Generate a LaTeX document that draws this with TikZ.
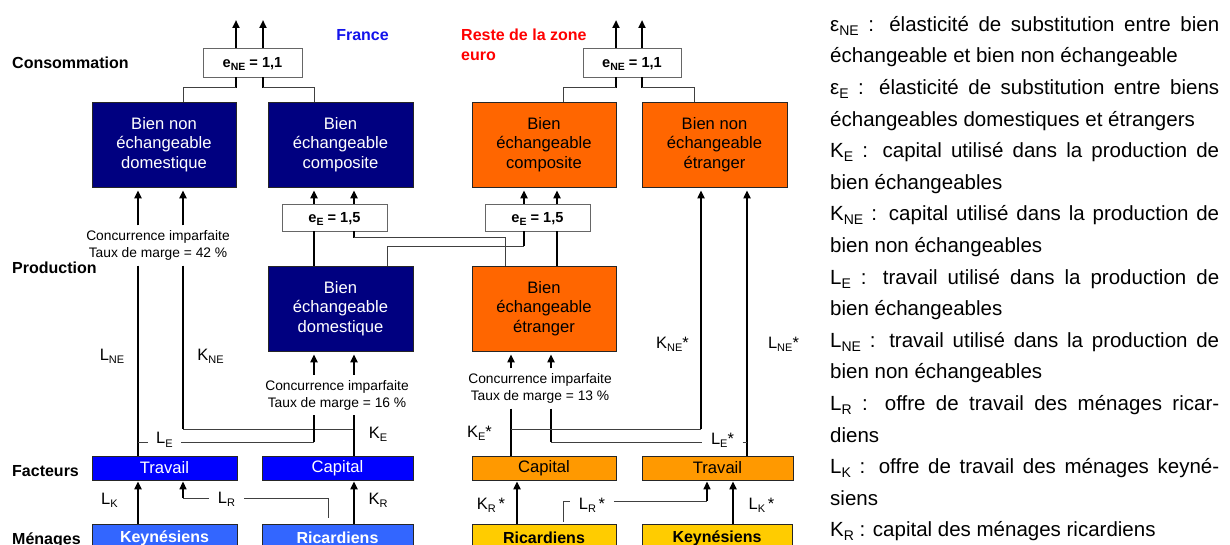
\documentclass[tikz,border=0pt]{standalone}
\usepackage{fontspec}
\setmainfont{Liberation Sans}
\usetikzlibrary{arrows.meta}
\definecolor{navy}{RGB}{0,0,128}
\definecolor{fblue}{RGB}{0,0,255}
\definecolor{lblue}{RGB}{51,102,255}
\definecolor{dorange}{RGB}{255,102,0}
\definecolor{lorange}{RGB}{255,153,0}
\definecolor{myyellow}{RGB}{255,204,0}
\definecolor{francecol}{RGB}{20,20,235}
\definecolor{restecol}{RGB}{255,0,0}
\definecolor{thincol}{RGB}{64,64,64}
\newcommand{\sbs}[1]{\raisebox{-3.5pt}{\fontsize{11}{11}\selectfont #1}}
\newcommand{\lsb}[1]{\raisebox{-4pt}{\fontsize{14}{14}\selectfont #1}}
\newcommand{\esb}[1]{\raisebox{-3pt}{\fontsize{10.5}{10.5}\selectfont #1}}
\begin{document}
\begin{tikzpicture}[x=1pt,y=-1pt,
  box/.style={draw=black!85, line width=0.8pt, inner sep=0pt, align=center, font=\fontsize{16.6}{19.5}\selectfont},
  navybox/.style={box, fill=navy, text=white},
  dorbox/.style={box, fill=dorange, text=black},
  ebox/.style={draw=black!60, line width=0.8pt, fill=white, inner sep=0pt, text height=10pt, text depth=0pt, font=\fontsize{14.6}{14.6}\selectfont\bfseries},
  fbox/.style={box, fill=fblue, text=white, minimum height=24pt},
  obox/.style={box, fill=lorange, text=black, minimum height=24pt},
  kbox/.style={box, fill=lblue, text=white, minimum height=28pt, font=\fontsize{16}{16}\selectfont\bfseries},
  ybox/.style={box, fill=myyellow, text=black, minimum height=28pt, font=\fontsize{16}{16}\selectfont\bfseries},
  heading/.style={anchor=base west, inner sep=0pt, font=\fontsize{16}{16}\selectfont\bfseries},
  cimp/.style={align=center, inner xsep=0pt, inner ysep=5pt, font=\fontsize{13.8}{17}\selectfont},
  lab/.style={anchor=base, inner xsep=8.5pt, inner ysep=0pt, font=\fontsize{16.5}{16.5}\selectfont},
  thk/.style={line width=2pt, black},
  thn/.style={line width=1pt, thincol},
  arr/.style={thk, -{Triangle[width=7pt,length=8pt]}, shorten >=#1},
  arr/.default=3pt,
  arrm/.style={line width=1.4pt, black, -{Triangle[width=7pt,length=8pt]}, shorten >=1pt}
]
\fill[white] (0,0) rectangle (1230,545);
\useasboundingbox (0,0) rectangle (1230,545);

% column and row coordinates
\foreach \c in {138,183,236,263,314,328,354,387,505,511,517,524,551,557,563,616,642,694,701,707,733,747}
  {\coordinate (x\c) at (\c,0);}
\foreach \r in {20,88,238,246,429,442,498,501}
  {\coordinate (y\r) at (0,\r);}

% headings
\node[heading] (hCons) at (12,68.3) {Consommation};
\node[heading] (hProd) at (12,273.3) {Production};
\node[heading] (hFact) at (12,476.7) {Facteurs};
\node[heading] (hMen) at (12,544) {Ménages};
\node[anchor=base, inner sep=0pt, font=\fontsize{16}{16}\selectfont\bfseries, text=francecol] (lFr) at (362.5,41) {France};
\node[anchor=north west, align=left, inner sep=0pt, font=\fontsize{16}{20}\selectfont\bfseries, text=restecol] (lRe) at (461,29) {Reste de la zone\\euro};

% boxes
\node[ebox, minimum width=99pt, minimum height=29pt] (eNEF) at (252.5,62.5) {e\esb{NE} = 1,1};
\node[ebox, minimum width=98pt, minimum height=29pt] (eNER) at (632,62.5) {e\esb{NE} = 1,1};
\node[navybox, minimum width=144pt, minimum height=85pt] (bneF) at (164,144.5) {Bien non\\échangeable\\domestique};
\node[navybox, minimum width=145pt, minimum height=85pt] (becF) at (340.5,144.5) {Bien\\échangeable\\composite};
\node[dorbox, minimum width=144pt, minimum height=85pt] (becR) at (544,144.5) {Bien\\échangeable\\composite};
\node[dorbox, minimum width=145pt, minimum height=85pt] (bneR) at (714.5,144.5) {Bien non\\échangeable\\étranger};
\node[ebox, minimum width=105pt, minimum height=27pt] (eEF) at (334.5,217.5) {e\esb{E} = 1,5};
\node[ebox, minimum width=105pt, minimum height=27pt] (eER) at (537.5,217.5) {e\esb{E} = 1,5};
\node[navybox, minimum width=145pt, minimum height=85pt] (bedF) at (340.5,308.5) {Bien\\échangeable\\domestique};
\node[dorbox, minimum width=144pt, minimum height=85pt] (beeR) at (544,308.5) {Bien\\échangeable\\étranger};
\node[fbox, minimum width=145pt] (travF) at (164.5,468) {Travail};
\node[fbox, minimum width=151pt] (capF) at (337.5,468) {Capital};
\node[obox, minimum width=144pt] (capR) at (544,468) {Capital};
\node[obox, minimum width=151pt] (travR) at (717.5,468) {Travail};
\node[kbox, minimum width=145pt] (keyF) at (164.5,538) {Keynésiens};
\node[kbox, minimum width=151pt] (ricF) at (337.5,538) {Ricardiens};
\node[ybox, minimum width=144pt] (ricR) at (544,538) {Ricardiens};
\node[ybox, minimum width=150pt] (keyR) at (717,538) {Keynésiens};

% texts on the lines
\node[cimp] (cimA) at (158,245.5) {Concurrence imparfaite\\Taux de marge = 42~\%};
\node[cimp] (cimB) at (337,395) {Concurrence imparfaite\\Taux de marge = 16~\%};
\node[cimp] (cimC) at (540,388.5) {Concurrence imparfaite\\Taux de marge = 13~\%};

\node[lab] (lLNE) at (112,360) {L\sbs{NE}};
\node[lab] (lKNE) at (210.5,360) {K\sbs{NE}};
\node[lab] (lE) at (164.5,443.5) {L\sbs{E}};
\node[lab] (lKE) at (378,438) {K\sbs{E}};
\node[lab] (lLK) at (109.5,504) {L\sbs{K}};
\node[lab] (lR) at (226.5,503) {L\sbs{R}};
\node[lab] (lKR) at (378,504) {K\sbs{R}};
\node[lab] (lKEs) at (479.5,437) {K\sbs{E}*};
\node[lab] (lEs) at (722.5,444) {L\sbs{E}*};
\node[lab] (lKRs) at (491,509) {K\sbs{R}\,*};
\node[lab] (lRs) at (592,509) {L\sbs{R}\,*};
\node[lab] (lLKs) at (761.5,509) {L\sbs{K}\,*};
\node[lab] (lKNEs) at (672.5,348) {K\sbs{NE}*};
\node[lab] (lLNEs) at (783.5,348) {L\sbs{NE}*};

% consumption outputs
\draw[arr=0pt] (eNEF.north -| x236) -- (x236 |- y20);
\draw[arr=0pt] (eNEF.north -| x263) -- (x263 |- y20);
\draw[arr=0pt] (eNER.north -| x616) -- (x616 |- y20);
\draw[arr=0pt] (eNER.north -| x642) -- (x642 |- y20);

% e_NE to goods
\draw[thk] (eNEF.south -| x236) -- (x236 |- y88);
\draw[thn] (x236 |- y88) -| (bneF.north -| x183);
\draw[thk] (eNEF.south -| x263) -- (x263 |- y88);
\draw[thn] (x263 |- y88) -| (becF.north -| x314);
\draw[thk] (eNER.south -| x616) -- (x616 |- y88);
\draw[thn] (x616 |- y88) -| (becR.north -| x563);
\draw[thk] (eNER.south -| x642) -- (x642 |- y88);
\draw[thn] (x642 |- y88) -| (bneR.north -| x694);

% France non tradable
\draw[arr] (cimA.north -| x138) -- (bneF.south -| x138);
\draw[arr] (cimA.north -| x183) -- (bneF.south -| x183);
\draw[thk] (cimA.south -| x138) -- (travF.north -| x138);
\draw[thk] (cimA.south -| x183) -- (x183 |- y429);
\draw[thn] (x183 |- y429) -- (x354 |- y429);

% e_E boxes
\draw[arr] (eEF.north -| x314) -- (becF.south -| x314);
\draw[arr] (eEF.north -| x354) -- (becF.south -| x354);
\draw[thk] (eEF.south -| x314) -- (bedF.north -| x314);
\draw[thk] (eEF.south -| x354) -- (x354 |- y238);
\draw[thn] (x354 |- y238) -| (beeR.north -| x505);
\draw[thn] (bedF.north -| x387) |- (x524 |- y246);
\draw[thk] (x524 |- y246) -- (eER.south -| x524);
\draw[arr] (eER.north -| x524) -- (becR.south -| x524);
\draw[arr] (eER.north -| x557) -- (becR.south -| x557);
\draw[thk] (eER.south -| x557) -- (beeR.north -| x557);

% France tradable domestic
\draw[arr] (cimB.north -| x314) -- (bedF.south -| x314);
\draw[arr] (cimB.north -| x354) -- (bedF.south -| x354);
\draw[thk] (cimB.south -| x314) -- (x314 |- y442);
\draw[thk] (cimB.south -| x354) -- (capF.north -| x354);
\draw[thn] (x138 |- y442) -- (lE.west |- y442);
\draw[thn] (lE.east |- y442) -- (x314 |- y442);

% foreign tradable
\draw[arr] (cimC.north -| x511) -- (beeR.south -| x511);
\draw[arr] (cimC.north -| x551) -- (beeR.south -| x551);
\draw[thk] (cimC.south -| x511) -- (capR.north -| x511);
\draw[thk] (cimC.south -| x551) -- (x551 |- y442);
\draw[thn] (x511 |- y429) -- (x701 |- y429);
\draw[arr] (x701 |- y429) -- (bneR.south -| x701);
\draw[arr] (travR.north -| x747) -- (bneR.south -| x747);
\draw[thn] (x551 |- y442) -- (lEs.west |- y442);
\draw[thn] (lEs.east |- y442) -- (x747 |- y442);

% households to factors, France
\draw[arr=1pt] (keyF.north -| x138) -- (travF.south -| x138);
\draw[arr=1pt] (ricF.north -| x354) -- (capF.south -| x354);
\draw[thn, shorten <=6pt] (ricF.north -| x328) |- (lR.east |- y498);
\draw[thn] (lR.west |- y498) -- (x183 |- y498);
\draw[arrm] (x183 |- y498) -- (travF.south -| x183);

% households to factors, rest of euro zone
\draw[arr=1pt] (ricR.north -| x517) -- (capR.south -| x517);
\draw[arr=1pt] (keyR.north -| x733) -- (travR.south -| x733);
\draw[thn, shorten <=2pt] (ricR.north -| x563) |- (lRs.west |- y501);
\draw[thn] (lRs.east |- y501) -- (x707 |- y501);
\draw[arrm] (x707 |- y501) -- (travR.south -| x707);

% legend
\node[anchor=north west, inner sep=0pt] (legend) at (830,9) {\parbox[t]{389pt}{\fontsize{20.5}{31.6}\selectfont\hyphenpenalty=10000\tolerance=10000\strut
ε\lsb{NE} : élasticité de substitution entre bien\linebreak échangeable et bien non échangeable\par
ε\lsb{E} : élasticité de substitution entre biens\linebreak échangeables domestiques et étrangers\par
K\lsb{E} : capital utilisé dans la production de\linebreak bien échangeables\par
K\lsb{NE} : capital utilisé dans la production de\linebreak bien non échangeables\par
L\lsb{E} : travail utilisé dans la production de\linebreak bien échangeables\par
L\lsb{NE} : travail utilisé dans la production de\linebreak bien non échangeables\par
L\lsb{R} : offre de travail des ménages ricar-\linebreak diens\par
L\lsb{K} : offre de travail des ménages keyné-\linebreak siens\par
K\lsb{R} : capital des ménages ricardiens}};
\end{tikzpicture}
\end{document}
